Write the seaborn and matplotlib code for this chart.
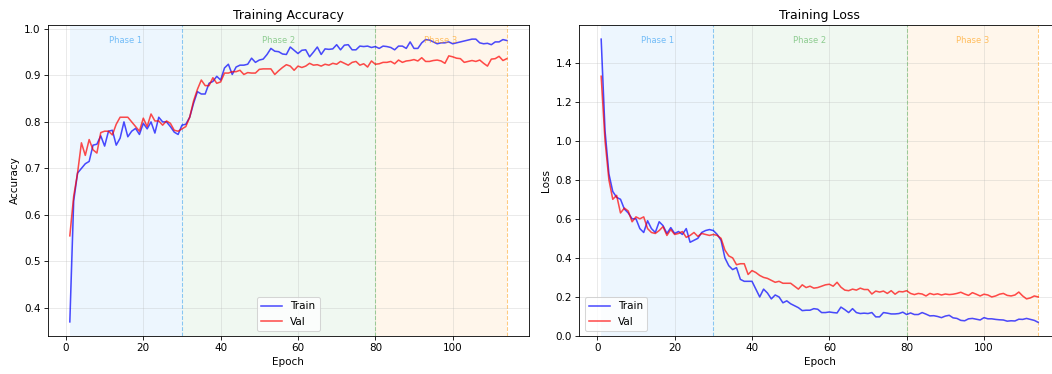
import numpy as np
import pandas as pd
import matplotlib
matplotlib.use("Agg")
import matplotlib.pyplot as plt
import seaborn as sns

# values
train_acc = [0.37, 0.63, 0.69, 0.70, 0.71, 0.715, 0.75, 0.752, 0.77, 0.748,
             0.78, 0.782, 0.75, 0.765, 0.80, 0.768, 0.78, 0.786, 0.773, 0.797,
             0.785, 0.80, 0.776, 0.81, 0.80, 0.80, 0.79, 0.778, 0.773, 0.793,
             0.795, 0.81, 0.84, 0.865, 0.86, 0.86, 0.883, 0.887, 0.898, 0.89,
             0.916, 0.924, 0.902, 0.918, 0.922, 0.922, 0.924, 0.937, 0.928, 0.933,
             0.935, 0.945, 0.958, 0.952, 0.951, 0.946, 0.945, 0.961, 0.954, 0.947,
             0.954, 0.955, 0.94, 0.95, 0.961, 0.945, 0.957, 0.956, 0.957, 0.966,
             0.955, 0.965, 0.966, 0.955, 0.955, 0.963, 0.962, 0.963, 0.96, 0.962,
             0.958, 0.963, 0.962, 0.96, 0.955, 0.963, 0.963, 0.958, 0.972, 0.958,
             0.958, 0.97, 0.977, 0.976, 0.972, 0.968, 0.97, 0.97, 0.972, 0.968,
             0.97, 0.972, 0.974, 0.976, 0.978, 0.978, 0.97, 0.968, 0.969, 0.966,
             0.972, 0.972, 0.977, 0.975]
val_acc = [0.555, 0.64, 0.69, 0.755, 0.728, 0.762, 0.74, 0.733, 0.777, 0.78,
           0.78, 0.772, 0.795, 0.81, 0.81, 0.81, 0.80, 0.79, 0.78, 0.808,
           0.79, 0.817, 0.802, 0.802, 0.793, 0.802, 0.797, 0.782, 0.78, 0.785,
           0.79, 0.81, 0.845, 0.87, 0.89, 0.878, 0.878, 0.895, 0.883, 0.886,
           0.905, 0.905, 0.908, 0.908, 0.911, 0.902, 0.906, 0.905, 0.905, 0.913,
           0.914, 0.914, 0.914, 0.902, 0.91, 0.917, 0.923, 0.92, 0.911, 0.92,
           0.917, 0.92, 0.926, 0.922, 0.923, 0.92, 0.924, 0.922, 0.926, 0.924,
           0.93, 0.926, 0.922, 0.928, 0.93, 0.922, 0.925, 0.918, 0.931, 0.924,
           0.925, 0.928, 0.928, 0.93, 0.925, 0.933, 0.928, 0.931, 0.932, 0.934,
           0.931, 0.938, 0.93, 0.93, 0.932, 0.933, 0.931, 0.926, 0.942, 0.94,
           0.937, 0.936, 0.928, 0.93, 0.932, 0.93, 0.933, 0.926, 0.92, 0.935,
           0.936, 0.941, 0.932, 0.936]
train_loss = [1.52, 1.05, 0.83, 0.74, 0.71, 0.70, 0.65, 0.63, 0.60, 0.60,
              0.55, 0.53, 0.59, 0.55, 0.53, 0.585, 0.565, 0.525, 0.555, 0.525,
              0.535, 0.52, 0.55, 0.48, 0.49, 0.50, 0.53, 0.54, 0.545, 0.54,
              0.52, 0.49, 0.40, 0.36, 0.34, 0.35, 0.29, 0.28, 0.28, 0.28,
              0.24, 0.20, 0.24, 0.22, 0.19, 0.21, 0.20, 0.17, 0.18, 0.165,
              0.155, 0.145, 0.13, 0.132, 0.132, 0.14, 0.137, 0.12, 0.12, 0.123,
              0.12, 0.118, 0.148, 0.135, 0.12, 0.14, 0.12, 0.115, 0.117, 0.115,
              0.12, 0.098, 0.098, 0.12, 0.117, 0.113, 0.113, 0.115, 0.122, 0.11,
              0.118, 0.11, 0.11, 0.12, 0.112, 0.103, 0.104, 0.10, 0.094, 0.102,
              0.106, 0.093, 0.09, 0.08, 0.078, 0.088, 0.09, 0.086, 0.082, 0.094,
              0.088, 0.088, 0.085, 0.083, 0.082, 0.076, 0.078, 0.077, 0.086, 0.085,
              0.09, 0.085, 0.08, 0.07]
val_loss = [1.33, 1.00, 0.80, 0.70, 0.72, 0.63, 0.655, 0.64, 0.585, 0.61,
            0.60, 0.61, 0.55, 0.53, 0.525, 0.54, 0.56, 0.515, 0.545, 0.52,
            0.525, 0.535, 0.505, 0.515, 0.53, 0.51, 0.525, 0.52, 0.515, 0.52,
            0.515, 0.50, 0.44, 0.41, 0.40, 0.365, 0.37, 0.37, 0.315, 0.335,
            0.325, 0.31, 0.30, 0.295, 0.285, 0.275, 0.28, 0.27, 0.27, 0.27,
            0.255, 0.24, 0.262, 0.248, 0.255, 0.245, 0.248, 0.255, 0.262, 0.265,
            0.255, 0.275, 0.25, 0.235, 0.232, 0.24, 0.235, 0.245, 0.238, 0.238,
            0.215, 0.23, 0.225, 0.23, 0.218, 0.232, 0.214, 0.228, 0.226, 0.232,
            0.218, 0.212, 0.218, 0.215, 0.205, 0.218, 0.212, 0.216, 0.21, 0.215,
            0.212, 0.214, 0.218, 0.224, 0.215, 0.208, 0.222, 0.214, 0.205, 0.214,
            0.21, 0.20, 0.205, 0.214, 0.218, 0.208, 0.205, 0.21, 0.225, 0.205,
            0.19, 0.195, 0.205, 0.20]
epochs = list(range(1, len(train_acc) + 1))

phase_names = ["Phase 1", "Phase 2", "Phase 3"]
phase_bounds = [(1, 30), (30, 80), (80, 114)]
phase_colors = ["#2196F3", "#4CAF50", "#FF9800"]


def draw_phases(ax):
    for name, (lo, hi), c in zip(phase_names, phase_bounds, phase_colors):
        ax.axvspan(lo, hi, color=c, alpha=0.08, lw=0, zorder=0)
        ax.axvline(hi, color=c, ls="--", lw=1, alpha=0.5)
        ax.text((lo + hi) / 2, 0.965, name, transform=ax.get_xaxis_transform(),
                ha="center", va="top", fontsize=8, color=c, alpha=0.6)


fig, (ax1, ax2) = plt.subplots(1, 2, figsize=(1052 / 75, 374 / 75), dpi=75)
# the original picture is cropped on the right, so the second panel runs past the edge
plt.subplots_adjust(left=0.0456, right=1.0076, bottom=0.1016, top=0.9332, wspace=0.1054)

acc_df = pd.DataFrame({"Epoch": epochs, "Train": train_acc, "Val": val_acc})
loss_df = pd.DataFrame({"Epoch": epochs, "Train": train_loss, "Val": val_loss})

for ax, df, title, ylabel, loc in [(ax1, acc_df, "Training Accuracy", "Accuracy", "lower center"),
                                   (ax2, loss_df, "Training Loss", "Loss", "lower left")]:
    draw_phases(ax)
    sns.lineplot(data=df, x="Epoch", y="Train", ax=ax, color="blue", alpha=0.7, lw=1.5, label="Train")
    sns.lineplot(data=df, x="Epoch", y="Val", ax=ax, color="red", alpha=0.7, lw=1.5, label="Val")
    ax.set_title(title)
    ax.set_xlabel("Epoch")
    ax.set_ylabel(ylabel)
    ax.grid(True, alpha=0.3)
    ax.legend(loc=loc)

ax2.set_ylim(bottom=0)

plt.savefig("out.png", dpi=75)
